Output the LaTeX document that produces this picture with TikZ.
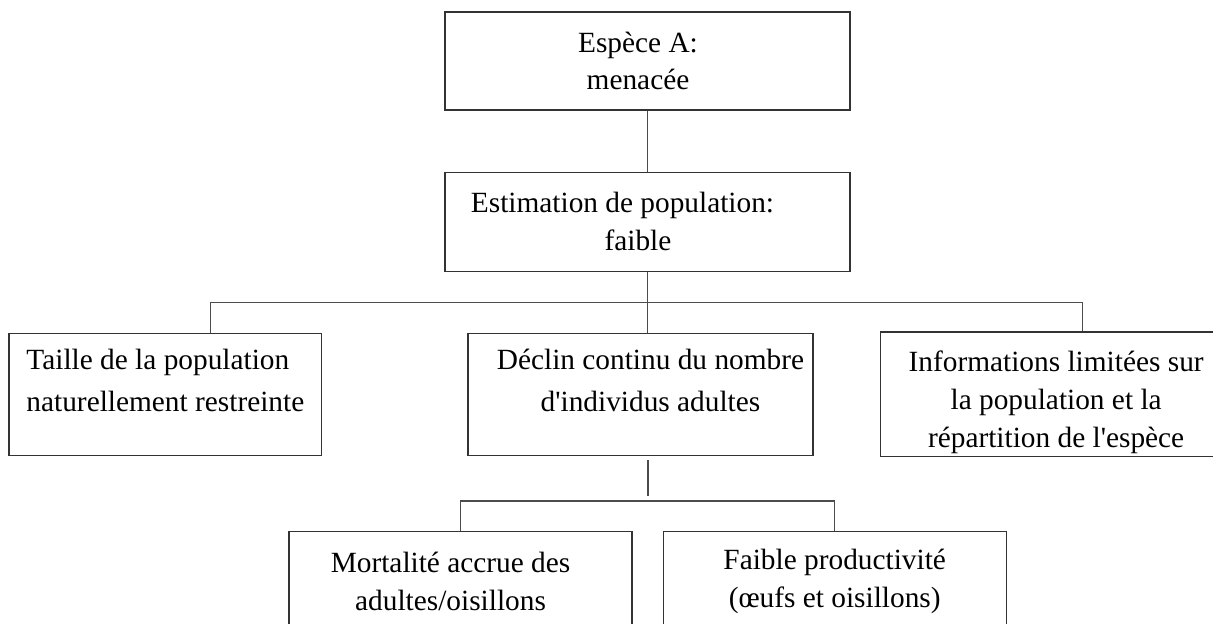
\documentclass[tikz,border=0pt]{standalone}
\usepackage{fontspec}
\setmainfont{Liberation Serif}[Ligatures=TeXOff]
\usepackage{tikz}
\usetikzlibrary{positioning}

\begin{document}
\begin{tikzpicture}[x=0.02cm, y=-0.02cm, node distance=1.22cm and 1.3cm,
  box/.style={draw=black!80, line width=0.7pt, rectangle, align=center, inner sep=2pt,
    font=\fontsize{16.7}{21.5}\selectfont},
  link/.style={draw=black!70, line width=0.6pt}]
  \useasboundingbox (0,0) rectangle (1213,623);
  \clip (0,0) rectangle (1213,623);

  \node[box, minimum width=8.1cm, minimum height=1.96cm] (espece) at (647.5,61)
    {Espèce A:\hspace*{0.38cm}\\menacée\hspace*{0.38cm}};
  \node[box, minimum width=8.1cm, minimum height=1.98cm, below=of espece] (estim)
    {Estimation de population:\hspace*{1cm}\\faible\hspace*{0.38cm}};
  \node[box, minimum width=6.9cm, minimum height=2.44cm, below=of estim, xshift=-0.14cm] (declin)
    {\hspace*{0.4cm}Déclin continu du nombre\\[0.08cm]\hspace*{0.4cm}d'individus adultes\rule[-0.55cm]{0pt}{0.55cm}};
  \node[box, align=left, minimum width=6.26cm, minimum height=2.44cm, left=2.9cm of declin] (taille)
    {Taille de la population\\[0.08cm]naturellement restreinte\rule[-0.55cm]{0pt}{0.55cm}};
  \node[box, minimum width=7.04cm, minimum height=2.44cm, right=1.32cm of declin] (infos)
    {\rule{0pt}{0.72cm}Informations limitées sur\\la population et la\\répartition de l'espèce};
  \node[box, minimum width=6.86cm, minimum height=2cm, below=1.5cm of declin, xshift=-3.6cm] (mort)
    {Mortalité accrue des\hspace*{0.4cm}\\adultes/oisillons\hspace*{0.4cm}};
  \node[box, minimum width=6.86cm, minimum height=2cm, right=0.6cm of mort] (prod)
    {Faible productivité\\(œufs et oisillons)};

  \coordinate[below=0.62cm of estim] (split);
  \draw[link] (espece) -- (estim);
  \draw[link] (estim) -- (split);
  \draw[link] (split) -| ([xshift=0.91cm]taille.north);
  \draw[link] (split) -| ([xshift=0.52cm]infos.north);
  \draw[link] (split) -- (split |- declin.north);
  \draw[link] ([shift={(0.15cm,-0.08cm)}]declin.south) -- ++(0,-0.72cm);
  \draw[link] (mort.north) -- ++(0,0.6cm) -| (prod.north);
\end{tikzpicture}
\end{document}
